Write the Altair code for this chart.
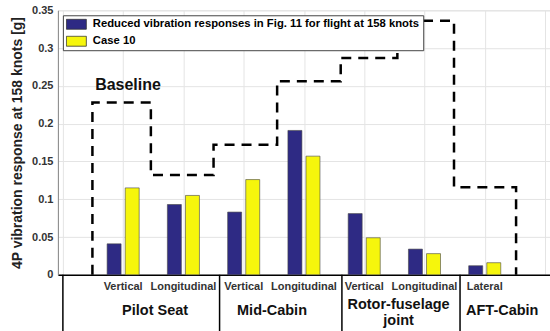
import altair as alt
import pandas as pd

# ---- data ----
groups = ["Pilot Seat", "Pilot Seat", "Mid-Cabin", "Mid-Cabin",
          "Rotor-fuselage joint", "Rotor-fuselage joint", "AFT-Cabin"]
directions = ["Vertical", "Longitudinal", "Vertical", "Longitudinal",
              "Vertical", "Longitudinal", "Lateral"]
reduced = [0.041, 0.093, 0.083, 0.191, 0.081, 0.034, 0.012]
case10 = [0.115, 0.105, 0.126, 0.157, 0.049, 0.028, 0.016]
series_names = ["Reduced vibration responses in Fig. 11 for flight at 158 knots", "Case 10"]

baseline = [0.228, 0.132, 0.172, 0.256, 0.287, 0.336, 0.116]
baseline_edges = [0.49, 1.46, 2.5, 3.555, 4.61, 5.55, 6.49, 7.52]

group_names = ["Pilot Seat", "Mid-Cabin", "AFT-Cabin"]
group_centers = [1.53, 3.47, 7.29]
wrapped_group = ["Rotor-fuselage\njoint"]
wrapped_center = [5.57]
group_dividers = [0, 2.6, 4.63, 6.59]

annot_text = ["Baseline"]
annot_x = [1.08]
annot_y = [0.251]

y_ticks = [0, 0.05, 0.1, 0.15, 0.2, 0.25, 0.3, 0.35]

BLUE = "#2e2a84"
YELLOW = "#f6f60c"
FONT = "Liberation Sans"

# ---- tables ----
rows = []
for i, (d, r, c) in enumerate(zip(directions, reduced, case10)):
    rows.append({"pos": i + 1 - 0.15, "value": r, "series": series_names[0], "dir": d})
    rows.append({"pos": i + 1 + 0.15, "value": c, "series": series_names[1], "dir": d})
bar_df = pd.DataFrame(rows)

step_rows = [{"x": baseline_edges[0], "y": 0.0}]
for i, v in enumerate(baseline):
    step_rows.append({"x": baseline_edges[i], "y": v})
    step_rows.append({"x": baseline_edges[i + 1], "y": v})
step_rows.append({"x": baseline_edges[-1], "y": 0.0})
step_df = pd.DataFrame(step_rows)
step_df["order"] = range(len(step_df))

sub_df = pd.DataFrame({"pos": list(range(1, len(directions) + 1)), "label": directions})
grp_df = pd.DataFrame({"pos": group_centers, "label": group_names})
wrap_df = pd.DataFrame({"pos": wrapped_center, "label": wrapped_group})
div_df = pd.DataFrame({"pos": group_dividers})
ann_df = pd.DataFrame({"x": annot_x, "y": annot_y, "t": annot_text})

xscale = alt.Scale(domain=[0, 8], nice=False, zero=False)
yscale = alt.Scale(domain=[0, 0.35], nice=False)
xaxis = alt.Axis(values=list(range(9)), labels=False, ticks=False, title=None,
                 domainColor="black", domainWidth=1.5, grid=True,
                 gridColor="#e4e4e4", gridWidth=1)
yaxis = alt.Axis(values=y_ticks, format="~g", title="4P vibration response at 158 knots [g]",
                 titleFontSize=14, titleFontWeight="bold", titleColor="#222",
                 titleFont=FONT, titlePadding=7, labelFont=FONT, labelFontSize=11,
                 labelFontWeight="bold", labelColor="#333", labelPadding=5,
                 ticks=False, domainColor="#888", grid=True, gridColor="#e4e4e4")

bars = alt.Chart(bar_df).mark_bar(size=14, stroke="#444", strokeWidth=0.6).encode(
    x=alt.X("pos:Q", scale=xscale, axis=xaxis),
    y=alt.Y("value:Q", scale=yscale, axis=yaxis),
    color=alt.Color("series:N", scale=alt.Scale(domain=series_names, range=[BLUE, YELLOW]),
                    legend=alt.Legend(title=None, orient="none", legendX=5, legendY=5,
                                      symbolType="M-1,-0.5H1V0.5H-1Z", symbolSize=400,
                                      symbolStrokeColor="#333", symbolStrokeWidth=0.8,
                                      symbolOpacity=1,
                                      labelFont=FONT, labelFontWeight="bold",
                                      labelFontSize=11.3, labelColor="black", labelLimit=500,
                                      labelOffset=6, strokeColor="#444", fillColor="white",
                                      padding=3, rowPadding=5, clipHeight=12)),
)

step = alt.Chart(step_df).mark_line(color="black", strokeDash=[10, 7], strokeWidth=2.5).encode(
    x=alt.X("x:Q", scale=xscale, axis=xaxis),
    y=alt.Y("y:Q", scale=yscale, axis=yaxis),
    order="order:Q",
)

ann = alt.Chart(ann_df).mark_text(fontSize=16, fontWeight="bold", color="#111", font=FONT).encode(
    x=alt.X("x:Q", scale=xscale, axis=xaxis),
    y=alt.Y("y:Q", scale=yscale, axis=yaxis),
    text="t:N",
)

subs = alt.Chart(sub_df).mark_text(fontSize=11, fontWeight="bold", color="#333", font=FONT,
                                   baseline="middle").encode(
    x=alt.X("pos:Q", scale=xscale, axis=xaxis),
    y=alt.value(277),
    text="label:N",
)

grps = alt.Chart(grp_df).mark_text(fontSize=14.5, fontWeight="bold", color="#111", font=FONT,
                                   baseline="middle").encode(
    x=alt.X("pos:Q", scale=xscale, axis=xaxis),
    y=alt.value(301),
    text="label:N",
)

wraps = alt.Chart(wrap_df).mark_text(fontSize=14.5, fontWeight="bold", color="#111", font=FONT,
                                     baseline="middle", lineBreak="\n", lineHeight=16).encode(
    x=alt.X("pos:Q", scale=xscale, axis=xaxis),
    y=alt.value(295),
    text="label:N",
)

divs = alt.Chart(div_df).mark_rule(color="black", strokeWidth=1.5).encode(
    x=alt.X("pos:Q", scale=xscale, axis=xaxis),
    y=alt.value(265),
    y2=alt.value(322),
)

chart = alt.layer(bars, step, ann, subs, grps, wraps, divs).properties(
    width=493, height=265,
    autosize=alt.AutoSizeParams(type="none"),
    padding={"left": 58, "top": 10, "right": 0, "bottom": 56},
).configure_view(stroke="#888", strokeWidth=1).configure(font=FONT)

chart.save("out.html", embed_options={"renderer": "svg", "actions": False})
